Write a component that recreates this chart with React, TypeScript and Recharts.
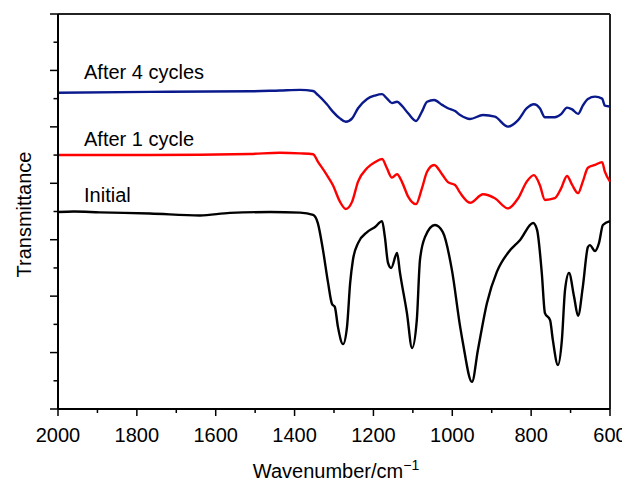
import React from "react";
import {
  LineChart,
  Line,
  XAxis,
  YAxis,
  ReferenceLine,
  ReferenceDot,
} from "recharts";

const FONT = '"Liberation Sans", Arial, Helvetica, sans-serif';

// wavenumber ticks (cm-1), labels only on the 200 steps
const xTicks = [2000, 1900, 1800, 1700, 1600, 1500, 1400, 1300, 1200, 1100, 1000, 900, 800, 700, 600];
const xTickLabels = ["2000", "1800", "1600", "1400", "1200", "1000", "800", "600"];
// transmittance axis has no numbers, only ticks
const yTicks = [0, 1, 2, 3, 4, 5, 6, 7, 8, 9, 10, 11, 12, 13, 14];

// Initial spectrum
const initialWn = [
  2000, 1960, 1894, 1767, 1640, 1564, 1462, 1386, 1353, 1341, 1328, 1315, 1305, 1298, 1290, 1277,
  1267, 1259, 1252, 1239, 1216, 1196, 1178, 1171, 1163, 1155, 1140, 1133, 1115, 1102, 1090, 1082,
  1069, 1044, 1024, 1001, 980, 973, 950, 935, 912, 887, 859, 828, 795, 785, 773, 765, 752, 745,
  732, 722, 714, 704, 691, 681, 669, 656, 651, 638, 628, 618, 600,
];
const initialT = [
  6.98, 7.0, 6.97, 6.93, 6.86, 6.95, 6.98, 6.96, 6.88, 6.59, 5.64, 4.47, 3.72, 3.62, 2.91, 2.3,
  2.91, 4.47, 5.28, 5.88, 6.27, 6.45, 6.66, 6.1, 5.18, 5.0, 5.53, 4.86, 3.4, 2.16, 3.15, 5.28,
  6.1, 6.52, 6.27, 4.93, 2.91, 2.34, 0.96, 2.09, 3.76, 4.86, 5.53, 5.99, 6.59, 6.35, 4.82, 3.4, 3.15, 2.45,
  1.56, 2.45, 4.22, 4.82, 3.97, 3.3, 4.32, 5.74, 5.81, 5.6, 5.88, 6.52, 6.66,
];

// After 1 cycle / after 4 cycles share the same wavenumber samples
const cycleWn = [
  2000, 1767, 1513, 1437, 1386, 1353, 1341, 1318, 1303, 1285, 1270, 1254, 1239, 1216, 1196, 1178,
  1166, 1153, 1140, 1128, 1112, 1092, 1077, 1064, 1046, 1026, 1011, 993, 980, 955, 922, 892, 859,
  833, 811, 793, 778, 765, 740, 724, 709, 696, 681, 669, 656, 638, 620, 613, 600,
];
const cycle1T = [
  9.0, 9.0, 9.04, 9.08, 9.06, 9.03, 8.77, 8.29, 7.94, 7.35, 7.09, 7.35, 8.06, 8.54, 8.75, 8.86,
  8.54, 8.2, 8.32, 8.06, 7.53, 7.26, 7.82, 8.41, 8.65, 8.32, 8.04, 7.94, 7.66, 7.31, 7.61, 7.47, 7.11,
  7.47, 8.06, 8.29, 7.94, 7.41, 7.47, 7.82, 8.26, 7.94, 7.65, 8.06, 8.55, 8.65, 8.75, 8.41, 8.06,
];
const cycle4T = [
  11.21, 11.24, 11.26, 11.29, 11.31, 11.27, 11.13, 10.8, 10.54, 10.3, 10.18, 10.3, 10.66, 10.99, 11.11, 11.16,
  11.01, 10.84, 10.89, 10.75, 10.48, 10.21, 10.54, 10.89, 10.95, 10.78, 10.66, 10.56, 10.42, 10.28, 10.42, 10.36, 10.01,
  10.24, 10.66, 10.8, 10.66, 10.34, 10.34, 10.45, 10.68, 10.62, 10.46, 10.75, 10.99, 11.07, 11.0, 10.75, 10.72,
];

const initialData = initialWn.map((wn, i) => ({ wn, t: initialT[i] }));
const cycle1Data = cycleWn.map((wn, i) => ({ wn, t: cycle1T[i] }));
const cycle4Data = cycleWn.map((wn, i) => ({ wn, t: cycle4T[i] }));

function XTick(props: any) {
  const { x, y, payload } = props;
  const label = String(payload.value);
  const major = xTickLabels.includes(label);
  return (
    <g>
      <line x1={x} x2={x} y1={y} y2={y + (major ? 7 : 4)} stroke="#000" strokeWidth={1.5} />
      {major && (
        <text x={x} y={y + 33} textAnchor="middle" fontSize={20} fontFamily={FONT} fill="#000">
          {label}
        </text>
      )}
    </g>
  );
}

function YTick(props: any) {
  const { x, y, payload } = props;
  const major = payload.value % 2 === 0;
  return <line x1={x - (major ? 8 : 4.5)} x2={x} y1={y} y2={y} stroke="#000" strokeWidth={1.5} />;
}

function XTitle(props: any) {
  const vb = props.viewBox;
  return (
    <text x={vb.x + vb.width / 2 + 2} y={vb.y + 69} textAnchor="middle" fontSize={20} fontFamily={FONT} fill="#000">
      Wavenumber/cm
      <tspan fontSize={14} dy={-8}>−1</tspan>
    </text>
  );
}

function YTitle(props: any) {
  const vb = props.viewBox;
  const x = vb.x + 23;
  const y = vb.y + vb.height / 2 + 3;
  return (
    <text x={x} y={y} transform={`rotate(-90, ${x}, ${y})`} textAnchor="middle" fontSize={20} fontFamily={FONT} fill="#000">
      Transmittance
    </text>
  );
}

function SeriesLabel(props: any) {
  const vb = props.viewBox;
  return (
    <text x={vb.x} y={vb.y} fontSize={20} fontFamily={FONT} fill="#000">
      {props.text}
    </text>
  );
}

export default function App() {
  return (
    <div style={{ height: 470 }}>
      <LineChart width={622} height={478} margin={{ top: 6, right: 20, left: 0, bottom: 0 }}>
        <XAxis
          dataKey="wn"
          type="number"
          domain={[600, 2000]}
          reversed
          ticks={xTicks}
          interval={0}
          tickSize={0}
          tickMargin={0}
          tickLine={false}
          tick={<XTick />}
          axisLine={{ stroke: "#000", strokeWidth: 2 }}
          height={77}
          label={<XTitle />}
        />
        <YAxis
          type="number"
          domain={[0, 14]}
          ticks={yTicks}
          interval={0}
          tickSize={0}
          tickMargin={0}
          tickLine={false}
          tick={<YTick />}
          axisLine={{ stroke: "#000", strokeWidth: 2 }}
          width={50}
          label={<YTitle />}
        />
        <ReferenceLine y={14} stroke="#222" strokeWidth={2} />
        <ReferenceLine x={600} stroke="#222" strokeWidth={2} />
        <Line data={initialData} dataKey="t" type="monotone" stroke="#000" strokeWidth={2.4} dot={false} activeDot={false} isAnimationActive={false} />
        <Line data={cycle1Data} dataKey="t" type="monotone" stroke="#ff0000" strokeWidth={2.4} dot={false} activeDot={false} isAnimationActive={false} />
        <Line data={cycle4Data} dataKey="t" type="monotone" stroke="#0a1a8c" strokeWidth={2.4} dot={false} activeDot={false} isAnimationActive={false} />
        <ReferenceDot x={1934} y={11.7} r={0} stroke="none" fill="none" label={<SeriesLabel text="After 4 cycles" />} />
        <ReferenceDot x={1934} y={9.32} r={0} stroke="none" fill="none" label={<SeriesLabel text="After 1 cycle" />} />
        <ReferenceDot x={1934} y={7.34} r={0} stroke="none" fill="none" label={<SeriesLabel text="Initial" />} />
      </LineChart>
    </div>
  );
}
